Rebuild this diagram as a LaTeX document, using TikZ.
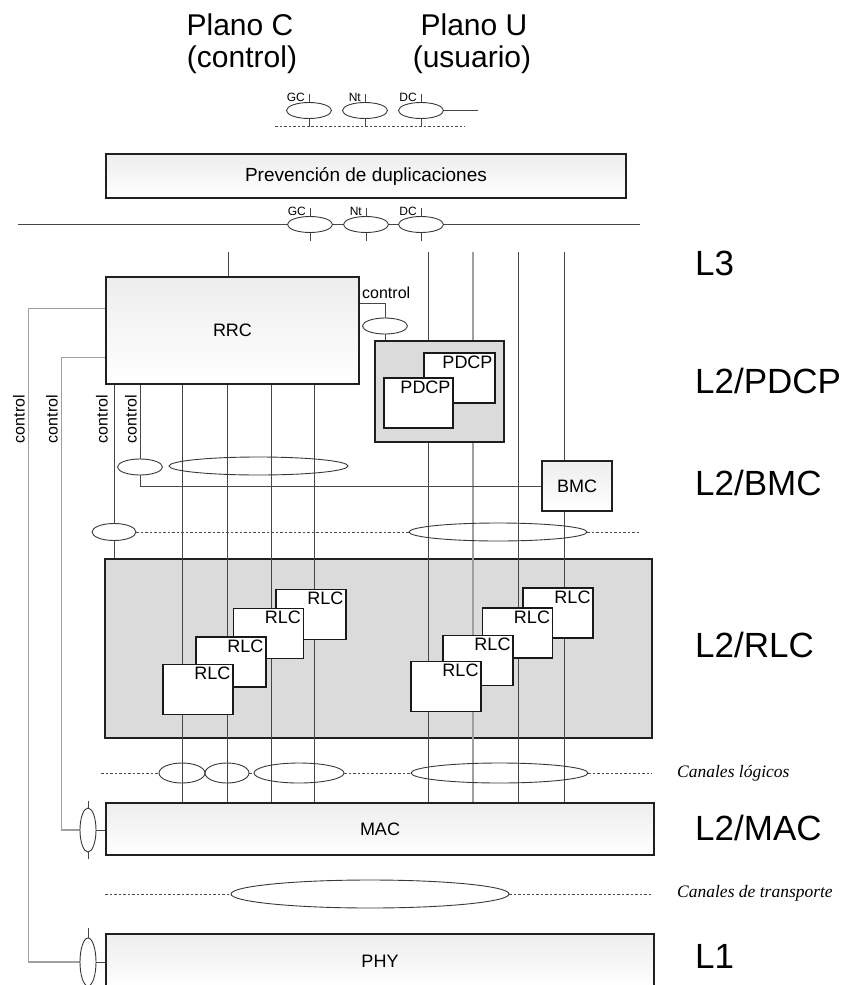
\documentclass[tikz,border=0pt]{standalone}
\usepackage{fontspec}
\setmainfont{Liberation Sans}
\newfontfamily\canalfont{Liberation Serif}
\usetikzlibrary{shapes.geometric}
\pgfdeclarelayer{fondo}
\pgfdeclarelayer{cables}
\pgfsetlayers{fondo,cables,main}

\begin{document}
\begin{tikzpicture}[x=1pt,y=-1pt,every node/.style={font=\fontsize{18}{20}\selectfont},
  ln/.style={draw=gray!55!black,line width=1pt},
  lnclaro/.style={draw=gray!75,line width=1.3pt},
  punteado/.style={draw=gray!60!black,line width=0.8pt,dash pattern=on 2.5pt off 2pt},
  capa/.style={draw=gray!25!black,line width=1.5pt,top color=gray!14,bottom color=white,minimum width=#1,inner sep=0pt},
  caja/.style={draw=gray!25!black,line width=1.5pt,fill=gray!28,inner sep=0pt},
  entidad/.style={draw=gray!20!black,line width=1.4pt,fill=white,minimum width=70pt,minimum height=50pt,inner sep=0pt,label={[anchor=north east,inner sep=3pt]north east:#1}},
  sap/.style={ellipse,draw=gray!45!black,line width=0.9pt,fill=white,inner sep=0pt,minimum width=#1,minimum height=16pt},
  sap/.default=45pt,
  sapv/.style={ellipse,draw=gray!45!black,line width=0.9pt,fill=white,inner sep=0pt,minimum width=16pt,minimum height=#1},
  ctl/.style={font=\fontsize{16}{18}\selectfont,inner sep=0pt},
  nivel/.style={font=\fontsize{35}{40}\selectfont,anchor=base west,inner sep=0pt},
  plano/.style={font=\fontsize{30}{34}\selectfont,anchor=base,inner sep=0pt},
  canal/.style={font=\canalfont\itshape\fontsize{17.5}{20}\selectfont,anchor=base west,inner sep=0pt},
  chico/.style={font=\fontsize{12}{14}\selectfont,anchor=base east,inner sep=0pt}]
  \useasboundingbox (0,0) rectangle (844,985);
  % planos y niveles
  \node[plano] (pc1) at (240,35) {Plano C};
  \node[plano] (pc2) at (242,67) {(control)};
  \node[plano] (pu1) at (474,35) {Plano U};
  \node[plano] (pu2) at (472,67) {(usuario)};
  \node[nivel] (l3) at (695,275) {L3};
  \node[nivel] (l2p) at (695,393) {L2/PDCP};
  \node[nivel] (l2b) at (695,495) {L2/BMC};
  \node[nivel] (l2r) at (695,657) {L2/RLC};
  \node[nivel] (l2m) at (695,840) {L2/MAC};
  \node[nivel] (l1) at (695,968) {L1};
  % SAPs de arriba
  \node[sap] (tgc) at (309,110.5) {}; \node[chico] (tgcl) at (305,101) {GC};
  \node[sap] (tnt) at (365,110.5) {}; \node[chico] (tntl) at (361,101) {Nt};
  \node[sap] (tdc) at (421,110.5) {}; \node[chico] (tdcl) at (417,101) {DC};
  \coordinate (tdl) at (275,126); \coordinate (tdr) at (465,126); \coordinate (tfin) at (478,110.5);
  \node[capa=520pt,minimum height=44pt,font=\fontsize{19}{22}\selectfont] (prev) at (366,176) {Prevención de duplicaciones};
  \node[sap] (bgc) at (310,224.5) {}; \node[chico] (bgcl) at (306,215) {GC};
  \node[sap] (bnt) at (366,224.5) {}; \node[chico] (bntl) at (362,215) {Nt};
  \node[sap] (bdc) at (421,224.5) {}; \node[chico] (bdcl) at (417,215) {DC};
  \coordinate (hl) at (18,224.5); \coordinate (hr) at (640,224.5);
  \coordinate (arr) at (0,252);
  % RRC, PDCP, BMC
  \node[capa=253pt,minimum height=107pt] (rrc) at (232.5,330.5) {RRC};
  \node[sap] (sapr) at (385,326) {};
  \node[ctl,anchor=base west] (k5) at (362,298) {control};
  \node[caja,minimum width=129pt,minimum height=101pt] (pdcp) at (439.5,391.5) {};
  \node[entidad=PDCP,minimum width=71pt] (pdcpb) at (459.5,378) {};
  \node[entidad=PDCP,minimum width=69pt] (pdcpa) at (418.5,403) {};
  \node[ctl,rotate=90] (k1) at (19,419) {control};
  \node[ctl,rotate=90] (k2) at (52,419) {control};
  \node[ctl,rotate=90] (k3) at (102,419) {control};
  \node[ctl,rotate=90] (k4) at (131,419) {control};
  \node[sap] (sapb) at (140,467) {};
  \node[sap=179pt,minimum height=18pt,fill=none] (sapc) at (258.5,466) {};
  \node[capa=70pt,minimum height=50pt] (bmc) at (577,486) {BMC};
  \node[sap=44pt,minimum height=17pt] (sapd) at (114,532) {};
  \node[sap=178pt,minimum height=18pt,fill=none] (sapu) at (498,532) {};
  \coordinate (dr) at (640,532);
  % RLC
  \begin{pgfonlayer}{fondo}
    \node[caja,minimum width=547pt,minimum height=179pt] (rlc) at (378.5,648.5) {};
  \end{pgfonlayer}
  \foreach \n/\x/\y in {4/311/614.5,3/268.5/633.5,2/231/662,1/198/689.5}
    \node[entidad=RLC] (rlcc\n) at (\x,\y) {};
  \foreach \n/\x/\y in {4/558/613,3/517.5/633,2/478/660.5,1/446/686.5}
    \node[entidad=RLC] (rlcu\n) at (\x,\y) {};
  % canales, MAC, PHY
  \node[sap=46pt,minimum height=20pt,fill=none] (lga) at (182,773) {};
  \node[sap=44pt,minimum height=20pt,fill=none] (lgb) at (227,773) {};
  \node[sap=90pt,minimum height=20pt,fill=none] (lgc) at (299,773) {};
  \node[sap=177pt,minimum height=20pt,fill=none] (lgd) at (499.5,773) {};
  \coordinate (lgl) at (101,773); \coordinate (lgr) at (652,773);
  \node[canal] (cl) at (677,777) {Canales lógicos};
  \node[capa=548pt,minimum height=52pt] (mac) at (380,829) {MAC};
  \node[sapv=44pt] (sapm) at (88,830) {};
  \node[sap=278pt,minimum height=28pt,fill=none] (trp) at (370,894) {};
  \coordinate (trl) at (105,894); \coordinate (trr) at (652,894);
  \node[canal] (ct) at (677,897) {Canales de transporte};
  \node[capa=548pt,minimum height=54pt] (phy) at (380,961) {PHY};
  \node[sapv=48pt] (saph) at (88,962) {};
  % lineas
  \begin{pgfonlayer}{cables}
    \draw[punteado] (tdl) -- (tdr);
    \foreach \s in {tgc,tnt,tdc} \draw[ln] ([yshift=8pt]\s.north) -- ([yshift=-8pt]\s.south);
    \draw[ln] (tdc.east) -- (tfin);
    \draw[ln] (hl) -- (hr);
    \foreach \s in {bgc,bnt,bdc} \draw[ln] ([yshift=8pt]\s.north) -- ([yshift=-8pt]\s.south);
    \draw[ln] (228,0 |- arr) -- (228,0 |- rrc.north);
    \foreach \x in {182,227,271,314} \draw[ln] (\x,0 |- rrc.south) -- (\x,0 |- mac.north);
    \foreach \x in {428,518,564} \draw[ln] (\x,0 |- arr) -- (\x,0 |- mac.north);
    \draw[lnclaro] (473,0 |- arr) -- (473,0 |- mac.north);
    \draw[lnclaro] ([yshift=22pt]rrc.west) -- ++(-77,0) |- (saph.west);
    \draw[ln] (saph.east) -- (phy.west |- saph.east);
    \draw[ln] ([yshift=10pt]saph.north) -- (saph.north);
    \draw[lnclaro] ([yshift=-27pt]rrc.west) -- ++(-44,0) |- (sapm.west);
    \draw[ln] (sapm.east) -- (mac.west |- sapm.east);
    \draw[ln] ([yshift=7pt]sapm.north) -- ([yshift=-7pt]sapm.south);
    \draw[ln] (rrc.south -| sapd) -- (sapd |- rlc.north);
    \draw[ln] (rrc.south -| sapb) |- (bmc.west);
    \draw[ln] ([yshift=27pt]rrc.east) -| (sapr |- pdcp.north);
    \draw[punteado] (sapd.east) -- (sapu.west) (sapu.east) -- (dr);
    \draw[punteado] (lgl) -- (lga.west) (lgb.east) -- (lgc.west) (lgc.east) -- (lgd.west) (lgd.east) -- (lgr);
    \draw[punteado] (trl) -- (trp.west) (trp.east) -- (trr);
  \end{pgfonlayer}
\end{tikzpicture}
\end{document}
